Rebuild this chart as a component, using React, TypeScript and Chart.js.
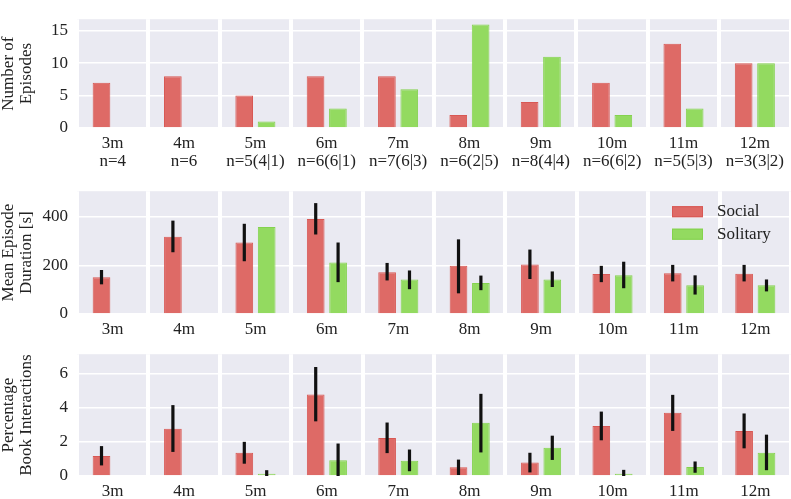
import { useEffect, useRef } from "react";
import { Chart, registerables } from "chart.js";

Chart.register(...registerables);

const months = ["3m", "4m", "5m", "6m", "7m", "8m", "9m", "10m", "11m", "12m"];
const sessionCounts = ["n=4", "n=6", "n=5(4|1)", "n=6(6|1)", "n=7(6|3)", "n=6(2|5)", "n=8(4|4)", "n=6(6|2)", "n=5(5|3)", "n=3(3|2)"];

const episodesSocial = [7, 8, 5, 8, 8, 2, 4, 7, 13, 10];
const episodesSolitary = [null, null, 1, 3, 6, 16, 11, 2, 3, 10];

const durationSocial = [151, 318, 294, 391, 172, 198, 204, 164, 168, 166];
const durationSocialLo = [122, 254, 217, 327, 138, 85, 144, 131, 134, 134];
const durationSocialHi = [181, 384, 371, 456, 210, 307, 265, 198, 202, 202];
const durationSolitary = [null, null, 358, 212, 142, 127, 142, 159, 118, 118];
const durationSolitaryLo = [null, null, null, 131, 102, 98, 111, 106, 80, 93];
const durationSolitaryHi = [null, null, null, 294, 179, 158, 175, 215, 159, 142];

const booksSocial = [1.17, 2.77, 1.36, 4.77, 2.23, 0.51, 0.79, 2.92, 3.7, 2.64];
const booksSocialLo = [0.62, 1.41, 0.72, 3.2, 1.34, 0.06, 0.21, 2.09, 2.64, 1.62];
const booksSocialHi = [1.75, 4.15, 2.0, 6.38, 3.13, 0.96, 1.36, 3.77, 4.75, 3.66];
const booksSolitary = [null, null, 0.13, 0.92, 0.9, 3.11, 1.66, 0.13, 0.53, 1.36];
const booksSolitaryLo = [null, null, 0, 0, 0.28, 1.38, 0.94, 0, 0.19, 0.34];
const booksSolitaryHi = [null, null, 0.34, 1.9, 1.55, 4.81, 2.36, 0.36, 0.85, 2.42];

const FONT = "'Liberation Serif', 'DejaVu Serif', serif";
const RED = "rgb(222,106,102)";
const RED_EDGE = "rgb(216,88,84)";
const GREEN = "rgb(147,218,96)";
const GREEN_EDGE = "rgb(132,210,78)";
const PANEL = "#EAEAF2";
const TEXT = "#222222";

type Num = number | null;

interface RowProps {
  top: number;
  height: number;
  padTop: number;
  xHeight: number;
  labels: (string | string[])[];
  title: string[];
  social: Num[];
  solitary: Num[];
  socialErr?: [Num[], Num[]];
  solitaryErr?: [Num[], Num[]];
  yMax: number;
  yStep: number;
  legend?: boolean;
}

function RowChart(props: RowProps) {
  const canvasRef = useRef<HTMLCanvasElement | null>(null);
  const chartRef = useRef<Chart | null>(null);

  useEffect(() => {
    if (!canvasRef.current) return;
    const ctx = canvasRef.current.getContext("2d");
    if (!ctx) return;
    if (chartRef.current) chartRef.current.destroy();

    // lavender panel behind the grid
    const panelBg = {
      id: "panelBg",
      beforeDraw(chart: Chart) {
        const { ctx, chartArea } = chart;
        ctx.save();
        ctx.fillStyle = PANEL;
        ctx.fillRect(chartArea.left, chartArea.top, chartArea.right - chartArea.left, chartArea.bottom - chartArea.top);
        ctx.restore();
      },
    };

    const errorBars = {
      id: "errorBars",
      afterDatasetsDraw(chart: Chart) {
        const { ctx } = chart;
        const y = chart.scales.y;
        const sets: [number, [Num[], Num[]] | undefined][] = [
          [0, props.socialErr],
          [1, props.solitaryErr],
        ];
        ctx.save();
        ctx.strokeStyle = "#111";
        ctx.lineWidth = 3.2;
        sets.forEach(([di, err]) => {
          if (!err) return;
          const [lo, hi] = err;
          chart.getDatasetMeta(di).data.forEach((bar, i) => {
            const a = lo[i];
            const b = hi[i];
            if (a == null || b == null) return;
            ctx.beginPath();
            ctx.moveTo(bar.x, y.getPixelForValue(a));
            ctx.lineTo(bar.x, y.getPixelForValue(b));
            ctx.stroke();
          });
        });
        ctx.restore();
      },
    };

    const legendBox = {
      id: "legendBox",
      afterDraw(chart: Chart) {
        if (!props.legend) return;
        const { ctx, chartArea } = chart;
        const x = chartArea.right - 119;
        const y = chartArea.top + 15;
        const items: [string, string, string][] = [
          ["Social", RED, RED_EDGE],
          ["Solitary", GREEN, GREEN_EDGE],
        ];
        ctx.save();
        ctx.font = `17px ${FONT}`;
        ctx.textBaseline = "middle";
        ctx.textAlign = "left";
        items.forEach(([name, fill, edge], k) => {
          const yy = y + k * 22.5;
          ctx.fillStyle = fill;
          ctx.fillRect(x, yy, 31, 11);
          ctx.strokeStyle = edge;
          ctx.lineWidth = 1;
          ctx.strokeRect(x + 0.5, yy + 0.5, 30, 10);
          ctx.fillStyle = TEXT;
          ctx.fillText(name, x + 45, yy + 5.5);
        });
        ctx.restore();
      },
    };

    chartRef.current = new Chart(ctx, {
      type: "bar",
      data: {
        labels: props.labels,
        datasets: [
          {
            label: "Social",
            data: props.social,
            backgroundColor: RED,
            borderColor: RED_EDGE,
            borderWidth: 1,
            categoryPercentage: 0.627,
            barPercentage: 0.79,
          },
          {
            label: "Solitary",
            data: props.solitary,
            backgroundColor: GREEN,
            borderColor: GREEN_EDGE,
            borderWidth: 1,
            categoryPercentage: 0.627,
            barPercentage: 0.79,
          },
        ],
      },
      options: {
        animation: false,
        responsive: true,
        maintainAspectRatio: false,
        layout: { padding: { top: props.padTop, left: 0, right: 0, bottom: 0 } },
        plugins: {
          legend: { display: false },
          tooltip: { enabled: false },
        },
        scales: {
          x: {
            offset: true,
            grid: { color: "#ffffff", lineWidth: 4, offset: true, drawTicks: false },
            border: { display: false },
            ticks: {
              color: TEXT,
              padding: 7,
              font: { family: FONT, size: 17, lineHeight: 1.06 },
              maxRotation: 0,
              autoSkip: false,
            },
            afterFit(scale) {
              scale.height = props.xHeight;
            },
          },
          y: {
            min: 0,
            max: props.yMax,
            grid: { color: "#ffffff", lineWidth: 1.6, drawTicks: false },
            border: { display: false },
            ticks: {
              stepSize: props.yStep,
              includeBounds: false,
              color: TEXT,
              padding: 9,
              font: { family: FONT, size: 17 },
            },
            title: {
              display: true,
              text: props.title,
              color: TEXT,
              padding: { top: 0, bottom: 0 },
              font: { family: FONT, size: 17, lineHeight: 1.06 },
            },
            afterFit(scale) {
              scale.width = 77;
            },
          },
        },
      },
      plugins: [panelBg, errorBars, legendBox],
    });

    return () => {
      chartRef.current?.destroy();
      chartRef.current = null;
    };
  }, []);

  return (
    <div style={{ position: "absolute", left: 0, top: props.top, width: 791, height: props.height }}>
      <canvas ref={canvasRef}></canvas>
    </div>
  );
}

export default function App() {
  const countLabels = months.map((m, i) => [m, sessionCounts[i]]);
  return (
    <div style={{ position: "fixed", left: 0, top: 0, width: 791, height: 499, background: "#ffffff" }}>
      <RowChart
        top={0}
        height={172}
        padTop={1.5}
        xHeight={44}
        labels={countLabels}
        title={["Number of", "Episodes"]}
        social={episodesSocial}
        solitary={episodesSolitary}
        yMax={16.8}
        yStep={5}
      />
      <RowChart
        top={172}
        height={163}
        padTop={15}
        xHeight={21}
        labels={months}
        title={["Mean Episode", "Duration [s]"]}
        social={durationSocial}
        solitary={durationSolitary}
        socialErr={[durationSocialLo, durationSocialHi]}
        solitaryErr={[durationSolitaryLo, durationSolitaryHi]}
        yMax={505}
        yStep={200}
        legend
      />
      <RowChart
        top={335}
        height={164}
        padTop={15}
        xHeight={23}
        labels={months}
        title={["Percentage", "Book Interactions"]}
        social={booksSocial}
        solitary={booksSolitary}
        socialErr={[booksSocialLo, booksSocialHi]}
        solitaryErr={[booksSolitaryLo, booksSolitaryHi]}
        yMax={7.13}
        yStep={2}
      />
    </div>
  );
}
